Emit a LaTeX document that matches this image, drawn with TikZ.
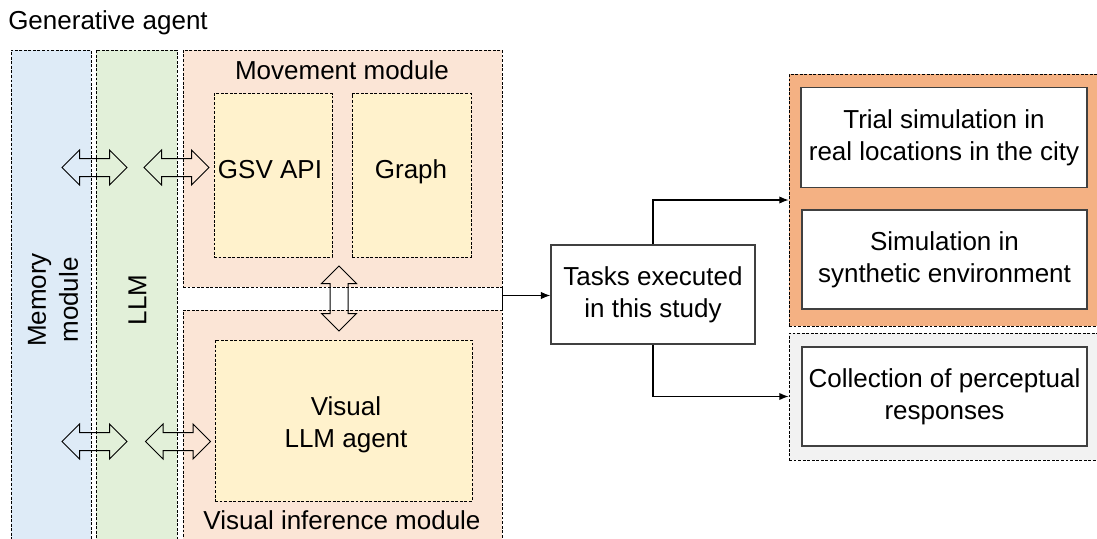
\documentclass[tikz,border=0pt]{standalone}
\usepackage{fontspec}
\setmainfont{Liberation Sans}
\usetikzlibrary{fit,shapes.arrows,arrows.meta}
\newdimen\pxu \pxu=0.75pt
\definecolor{cblue}{HTML}{DEEBF7}
\definecolor{cgreen}{HTML}{E2F0D9}
\definecolor{cpeach}{HTML}{FBE5D6}
\definecolor{cyellow}{HTML}{FFF2CC}
\definecolor{corange}{HTML}{F4B183}
\definecolor{cgrey}{HTML}{F2F2F2}
\definecolor{cline}{HTML}{404040}
\begin{document}
\begin{tikzpicture}[x=\pxu, y=-\pxu,
  every node/.style={font=\fontsize{19.5pt}{24pt}\selectfont},
  region/.style={draw=black, line width=0.6pt, dash pattern=on 2.2pt off 1.2pt, inner sep=0pt},
  solidbox/.style={draw=cline, line width=1.1pt, fill=white, inner sep=0pt, align=center},
  dblarrow/.style={double arrow, draw=black, line width=0.75pt, inner xsep=0pt, inner ysep=8.5\pxu, minimum height=65\pxu, double arrow head extend=8.5\pxu},
  conn/.style={draw=black, line width=0.8pt, -{Latex[length=7pt,width=5.5pt]}},
  lbl/.style={inner sep=0pt, align=center}
]
\useasboundingbox (0,0) rectangle (1097,539);
\clip (0,0) rectangle (1097,539);

% regions
\node[region, fill=cblue, fit={(11,50) (91,545)}] (mem) {};
\node[region, fill=cgreen, fit={(96,50) (177,545)}] (llm) {};
\node[region, fill=cpeach, fit={(183,50) (502,287)}] (mov) {};
\node[region, fill=cpeach, fit={(183,310) (502,545)}] (vis) {};
\node[region, fill=cyellow, fit={(214,93.5) (332,257)}] (gsv) {};
\node[region, fill=cyellow, fit={(352,93.5) (471,257)}] (graph) {};
\node[region, fill=cyellow, fit={(215,340) (472,501)}] (vllm) {};
\node[region, fill=corange, fit={(789,74) (1105,326)}] (sim) {};
\node[region, fill=cgrey, fit={(789,333) (1105,460)}] (perc) {};

% labels
\node[lbl, anchor=base west] (title) at (8,30) {Generative agent};
\node[lbl, rotate=90] (memt) at (53,300) {Memory\\module};
\node[lbl, rotate=90] (llmt) at (137.5,300) {LLM};
\node[lbl, anchor=base] (movt) at (342,79) {Movement module};
\node[lbl, anchor=base] (gsvt) at (270,178) {GSV API};
\node[lbl, anchor=base] (grapht) at (411,178) {Graph};
\node[lbl] (vllmt) at (346,425) {Visual\\LLM agent};
\node[lbl, anchor=base] (vist) at (342,529) {Visual inference module};

% task boxes
\node[solidbox, minimum width=204\pxu, minimum height=99\pxu] (tasks) at (653,294.5) {Tasks executed\\in this study};
\node[solidbox, minimum width=286\pxu, minimum height=100\pxu] (trial) at (944,137.7) {Trial simulation in\\real locations in the city};
\node[solidbox, minimum width=285\pxu, minimum height=99\pxu] (synth) at (944.5,259.5) {Simulation in\\synthetic environment};
\node[solidbox, minimum width=285\pxu, minimum height=99\pxu] (coll) at (944.5,396.5) {Collection of perceptual\\responses};

% double arrows
\node[dblarrow] (a1) at (94.5,167.5) {};
\node[dblarrow] (a2) at (176.5,167.5) {};
\node[dblarrow] (a3) at (94.5,441.5) {};
\node[dblarrow] (a4) at (178,441.5) {};
\node[dblarrow, rotate=90] (a5) at (339,298.5) {};

% connectors
\coordinate (gap) at (502,295.5);
\draw[line width=0.8pt] (mov.south east) -- (vis.north east);
\draw[conn] (gap) -- (gap -| tasks.west);
\draw[conn] (tasks.north) |- (sim.west);
\draw[conn] (tasks.south) |- (perc.west);
\end{tikzpicture}
\end{document}
